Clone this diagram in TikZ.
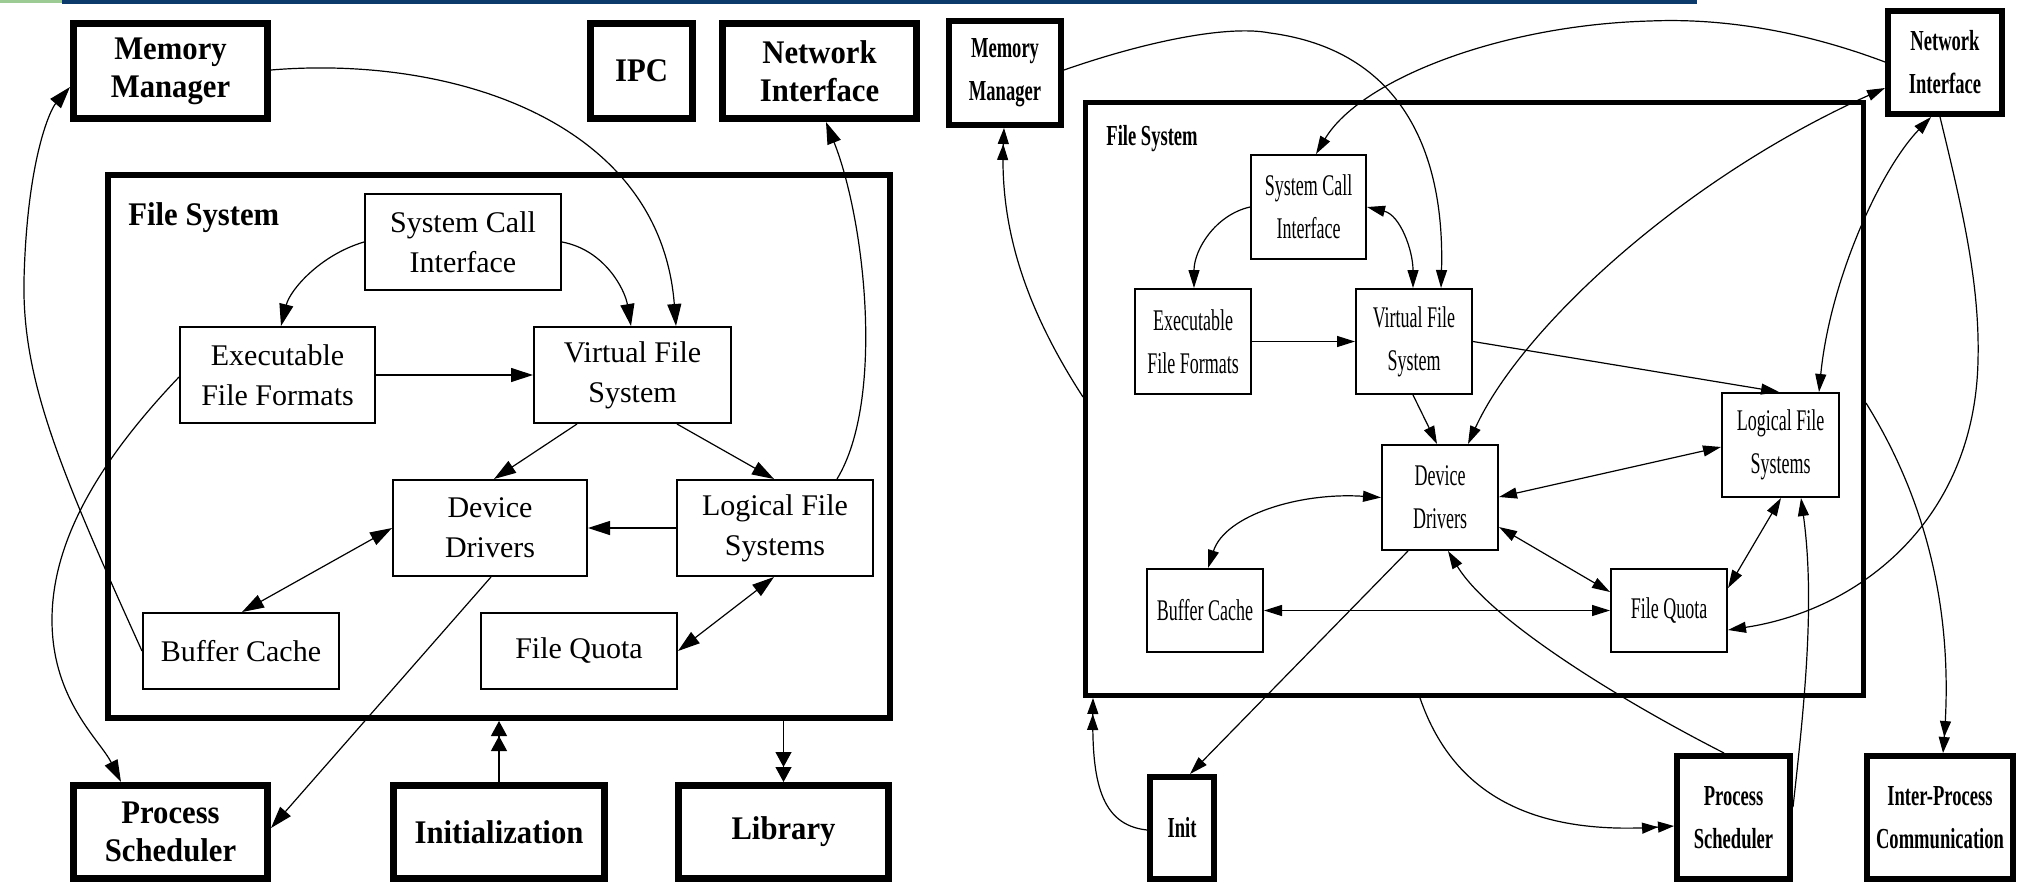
\documentclass[tikz,border=0pt]{standalone}
\usepackage{fontspec}
\usetikzlibrary{arrows.meta,fit,calc}
\newfontfamily\lreg{Liberation Serif}
\newfontfamily\lbf{Liberation Serif}[FakeStretch=0.93]
\newfontfamily\rreg{Liberation Serif}[FakeStretch=0.6]
\newfontfamily\rbf{Liberation Serif}[FakeStretch=0.64]
\definecolor{barblue}{HTML}{0B3A6B}
\definecolor{bargreen}{HTML}{9CCB94}
\tikzset{
  % box outlines
  lthin/.style={draw, line width=1pt, inner sep=0pt},
  lthick/.style={draw, line width=3.5pt, inner sep=0pt},
  lcluster/.style={draw, line width=3pt, inner sep=0pt},
  rthin/.style={draw, line width=1pt, inner sep=0pt},
  rthick/.style={draw, line width=3pt, inner sep=0pt},
  rcluster/.style={draw, line width=2.5pt, inner sep=0pt},
  % box texts
  lthintxt/.style={inner sep=0pt, align=center, font=\lreg\fontsize{15}{20}\selectfont},
  lthicktxt/.style={inner sep=0pt, align=center, font=\lbf\bfseries\fontsize{16.5}{19}\selectfont},
  rthintxt/.style={inner sep=0pt, align=center, font=\rreg\fontsize{15}{21.5}\selectfont},
  rthicktxt/.style={inner sep=0pt, align=center, font=\rbf\bfseries\fontsize{14.5}{21.5}\selectfont},
  llabel/.style={inner sep=0pt, font=\lbf\bfseries\fontsize{16.5}{19}\selectfont},
  rlabel/.style={inner sep=0pt, font=\rbf\bfseries\fontsize{14.5}{19}\selectfont},
  % connectors
  ledge/.style={line width=0.6pt, >={Triangle[length=11pt,width=7pt]}},
  redge/.style={line width=0.6pt, >={Triangle[length=9pt,width=5.5pt]}},
  lclu/.style={line width=0.6pt, -{Triangle[length=7.5pt,width=8pt]Triangle[length=7.5pt,width=8pt]}},
  rclu/.style={line width=0.6pt, -{Triangle[length=8pt,width=5.5pt]Triangle[length=8pt,width=5.5pt]}},
}
% \boxnode{outline style}{name}{corner}{corner}{text}
\newcommand\boxnode[5]{%
  \node[#1, fit={(#3)(#4)}] (#2) {};
  \node[#1txt] (#2-text) at (#2.center) {#5};
}
\begin{document}
\begin{tikzpicture}[x=0.5pt, y=-0.5pt]
\useasboundingbox (0,0) rectangle (2023,884);
\fill[white] (0,0) rectangle (2023,884);
% title bar
\fill[bargreen] (0,0) rectangle (62,2.5);
\fill[barblue] (62,0) rectangle (1697,3.5);

% ---------------- left diagram ----------------
\node[lcluster, fit={(108,175)(890,718)}] (lfs) {};
\node[llabel, anchor=base west] (lfslabel) at (128,225) {File System};

\boxnode{lthick}{lmm}{73.5,23.5}{267.5,118.5}{Memory\\Manager}
\boxnode{lthick}{lipc}{590.5,23.5}{692.5,118.5}{IPC}
\boxnode{lthick}{lni}{722.5,23.5}{916.5,118.5}{Network\\Interface}
\boxnode{lthick}{lps}{73.5,785.5}{267.5,878.5}{Process\\Scheduler}
\boxnode{lthick}{linit}{393.5,785.5}{604.5,878.5}{Initialization}
\boxnode{lthick}{llib}{678.5,785.5}{888.5,878.5}{Library}

\boxnode{lthin}{lsci}{365,194}{561,290}{System Call\\Interface}
\boxnode{lthin}{lexe}{180,327}{375,423}{Executable\\File Formats}
\boxnode{lthin}{lvfs}{534,327}{731,423}{Virtual File\\System}
\boxnode{lthin}{ldd}{393,480}{587,576}{Device\\Drivers}
\boxnode{lthin}{llfs}{677,480}{873,576}{Logical File\\Systems}
\boxnode{lthin}{lbc}{143,613}{339,689}{Buffer Cache}
\boxnode{lthin}{lfq}{481,613}{677,689}{File Quota}

\draw[ledge,->] (lmm.east |- 0,70) .. controls (450,55) and (660,120) .. (lvfs.north -| 676,0);
\draw[ledge,->] (lsci.west) .. controls (320,255) and (290,290) .. (lexe.north -| 281,0);
\draw[ledge,->] (lsci.east) .. controls (605,250) and (625,290) .. (lvfs.north -| 631,0);
\draw[ledge,->] (lexe.east) -- (lvfs.west);
\draw[ledge,->] (llfs.north -| 837,0) .. controls (885,400) and (865,220) .. (lni.south -| 826,0);
\draw[ledge,->] (lbc.west) .. controls (60,470) and (22,380) .. (24,280) .. controls (27,160) and (50,110) .. (lmm.west |- 0,87);
\draw[ledge,->] (lexe.west |- 0,377) .. controls (100,460) and (52,540) .. (52,620) .. controls (52,700) and (100,740) .. (lps.north -| 121,0);
\draw[ledge,->] (lvfs.south -| 577,0) -- (ldd.north -| 494,0);
\draw[ledge,->] (lvfs.south -| 677,0) -- (llfs.north -| 774,0);
\draw[ledge,->] (llfs.west) -- (ldd.east);
\draw[ledge,<->] (lbc.north -| 242,0) -- (ldd.west);
\draw[ledge,<->] (lfq.east) -- (llfs.south -| 774,0);
\draw[ledge,->] (ldd.south -| 491,0) -- (lps.east |- 0,828);
\draw[lclu] (linit.north) -- (lfs.south -| linit.north);
\draw[lclu] (lfs.south -| llib.north) -- (llib.north);

% ---------------- right diagram ----------------
\node[rcluster, fit={(1085.5,102.5)(1863.5,695.5)}] (rfs) {};
\node[rlabel, anchor=base west] (rfslabel) at (1106,145) {File System};

\boxnode{rthick}{rmm}{949,21}{1061,125}{Memory\\Manager}
\boxnode{rthick}{rni}{1888,11}{2002,114}{Network\\Interface}
\boxnode{rthick}{rinit}{1150,777}{1214,879}{Init}
\boxnode{rthick}{rps}{1677,756}{1790,879}{Process\\Scheduler}
\boxnode{rthick}{ripc}{1867,756}{2013,879}{Inter-Process\\Communication}

\boxnode{rthin}{rsci}{1251,155}{1366,259}{System Call\\Interface}
\boxnode{rthin}{rexe}{1135,289}{1251,394}{Executable\\File Formats}
\boxnode{rthin}{rvfs}{1356,289}{1472,394}{Virtual File\\System}
\boxnode{rthin}{rlfs}{1722,393}{1839,497}{Logical File\\Systems}
\boxnode{rthin}{rdd}{1382,445}{1498,550}{Device\\Drivers}
\boxnode{rthin}{rbc}{1147,569}{1263,652}{Buffer Cache}
\boxnode{rthin}{rfq}{1611,569}{1727,652}{File Quota}

\draw[redge,->] (rmm.east |- 0,70) .. controls (1150,40) and (1230,25) .. (1270,33) .. controls (1400,50) and (1445,150) .. (rvfs.north -| 1441,0);
\draw[redge,->] (rni.west |- 0,62) .. controls (1800,30) and (1720,18) .. (1650,21) .. controls (1500,25) and (1360,80) .. (rsci.north -| 1316,0);
\draw[redge,->] (rsci.west) .. controls (1215,215) and (1194,250) .. (rexe.north -| 1194,0);
\draw[redge,<->] (rsci.east) .. controls (1400,215) and (1413,250) .. (rvfs.north -| 1413,0);
\draw[redge,->] (rexe.east) -- (rvfs.west);
\draw[redge,->] (rvfs.east) -- (rlfs.north -| 1779,0);
\draw[redge,->] (rvfs.south -| 1413,0) -- (rdd.north -| 1437,0);
\draw[redge,<->] (rdd.north -| 1468,0) .. controls (1520,330) and (1680,180) .. (rni.west |- 0,88);
\draw[redge,<->] (rni.south -| 1931,0) .. controls (1880,170) and (1830,280) .. (rlfs.north -| 1819,0);
\draw[redge,->] (rni.south -| 1940,0) .. controls (1960,200) and (1980,280) .. (1978,360) .. controls (1975,520) and (1860,610) .. (rfq.east |- 0,630);
\draw[redge,<->] (rlfs.west |- 0,447) -- (rdd.east |- 0,497);
\draw[redge,<->] (rdd.west) .. controls (1300,492) and (1225,515) .. (rbc.north -| 1208,0);
\draw[redge,<->] (rdd.east |- 0,527) -- (rfq.west |- 0,592);
\draw[redge,<->] (rbc.east) -- (rfq.west);
\draw[redge,<->] (rlfs.south -| 1781,0) -- (rfq.east |- 0,588);
\draw[redge,->] (rdd.south -| 1408,0) -- (rinit.north -| 1190,0);
\draw[rclu] (rinit.west |- 0,830) .. controls (1100,825) and (1092,780) .. (rfs.south -| 1093,0);
\draw[rclu] (rfs.south -| 1420,0) .. controls (1455,800) and (1540,835) .. (rps.west |- 0,826);
\draw[redge,->] (rps.north -| 1724,0) .. controls (1620,700) and (1490,620) .. (rdd.south -| 1448,0);
\draw[redge,->] (rps.east |- 0,807) .. controls (1805,700) and (1815,600) .. (rlfs.south -| 1801,0);
\draw[rclu] (rfs.east |- 0,403) .. controls (1920,490) and (1955,600) .. (ripc.north -| 1943,0);
\draw[rclu] (rfs.west |- 0,397) .. controls (1020,300) and (1000,220) .. (rmm.south -| 1004,0);
\end{tikzpicture}
\end{document}
